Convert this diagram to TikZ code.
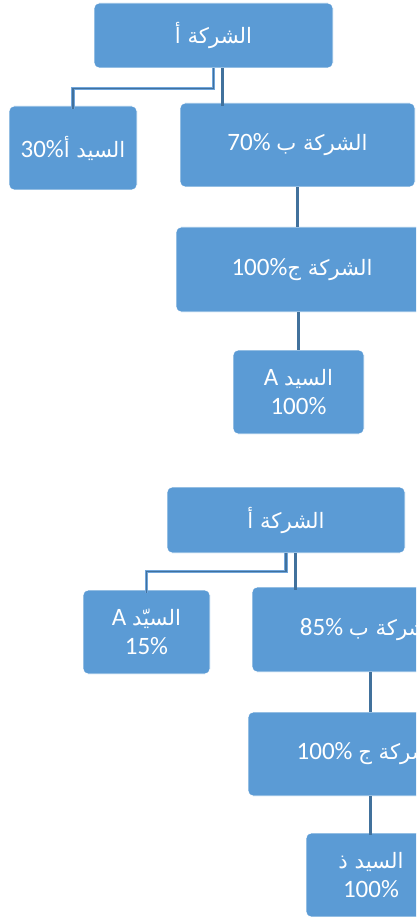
\documentclass[tikz,border=0pt]{standalone}
\usepackage{fontspec}
\setmainfont{Carlito}
\newfontfamily\arabicfont[Script=Arabic,Scale=0.85]{DejaVu Sans}
\TeXXeTstate=1
\usepackage{xcolor}
\definecolor{boxblue}{HTML}{5B9BD5}
\definecolor{linkblue}{HTML}{41719C}
\definecolor{elbowblue}{HTML}{6FA5DC}

\begin{document}
\begin{tikzpicture}[x=1pt,y=-1pt,
    box/.style={fill=boxblue, draw=white, line width=0.8pt, rounded corners=5pt,
      text=white, align=center, inner sep=2pt,
      font=\fontsize{25}{29}\selectfont},
    link/.style={draw=linkblue, line width=3pt},
    elbow/.style={draw=elbowblue, double=linkblue, double distance=1.6pt, line width=0.9pt}]
    \useasboundingbox (0,0) rectangle (416,917);
    \clip (0,0) rectangle (416,917);
    % first chart
    \node[box, minimum width=239pt, minimum height=65pt] (A1) at (213.5,35.5)
      {\beginR{\arabicfont الشركة أ}\endR};
    \node[box, minimum width=128pt, minimum height=84pt] (L1) at (73,148)
      {\beginR{\arabicfont السيد أ}\beginL 30\%\endL\endR};
    \node[box, minimum width=235pt, minimum height=84pt] (B1) at (297.5,145)
      {\beginR{\arabicfont الشركة ب} \beginL 70\%\endL\endR};
    \node[box, minimum width=252pt, minimum height=85pt] (C1) at (302,269.5)
      {\beginR{\arabicfont الشركة ج}\beginL 100\%\endL\endR};
    \node[box, minimum width=131pt, minimum height=84pt] (D1) at (298.5,392)
      {\beginR{\arabicfont السيد} \beginL A\endL\endR\\100\%};
    \draw[elbow] (A1.south) -- ++(0,20) -| ([yshift=-3]L1.north);
    \draw[link] ([xshift=9]A1.south) -- ([xshift=9,yshift=-3]A1.south |- B1.north);
    \draw[link] (B1.south) -- (B1.south |- C1.north);
    \draw[link] (D1.north |- C1.south) -- (D1.north);
    % second chart
    \node[box, minimum width=238pt, minimum height=66pt] (A2) at (286,520)
      {\beginR{\arabicfont الشركة أ}\endR};
    \node[box, minimum width=127pt, minimum height=84pt] (L2) at (146.5,632)
      {\beginR{\arabicfont السيّد} \beginL A\endL\endR\\15\%};
    \node[box, minimum width=236pt, minimum height=85pt] (B2) at (370,629.5)
      {\beginR{\arabicfont الشركة ب} \beginL 85\%\endL\endR};
    \node[box, minimum width=244pt, minimum height=84pt] (C2) at (370,754)
      {\beginR{\arabicfont الشركة ج} \beginL 100\%\endL\endR};
    \node[box, minimum width=130pt, minimum height=84pt] (D2) at (371,875)
      {\beginR{\arabicfont السيد ذ}\endR\\100\%};
    \draw[elbow] (A2.south) -- ++(0,18) -| ([yshift=-3]L2.north);
    \draw[link] ([xshift=9]A2.south) -- ([xshift=9,yshift=-3]A2.south |- B2.north);
    \draw[link] (B2.south) -- (B2.south |- C2.north);
    \draw[link] (C2.south) -- ([yshift=-2]C2.south |- D2.north);
\end{tikzpicture}
\end{document}
